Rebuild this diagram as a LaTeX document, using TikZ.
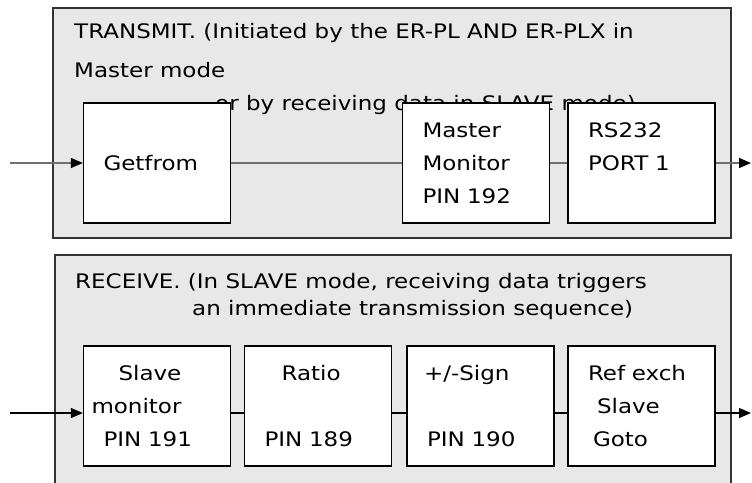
\documentclass[tikz,border=0pt]{standalone}
\usepackage{fontspec}
\setmainfont{DejaVu Sans}[FakeStretch=1.15]
\usetikzlibrary{arrows.meta,positioning}
\definecolor{panelgray}{HTML}{E8E8E8}
\definecolor{wiregray}{HTML}{707070}
\tikzset{
  panel/.style={draw=black!80,line width=1.3pt,fill=panelgray},
  block/.style={draw=black,line width=1.3pt,fill=white,minimum width=147pt,
    minimum height=120pt,inner xsep=20pt,text width=107pt,align=left,
    font=\fontsize{20}{33}\selectfont},
  caption/.style={anchor=base west,inner sep=0pt,align=left,
    font=\fontsize{20}{33}\selectfont},
  wire/.style={line width=1.3pt},
  feed/.style={wire,-{Triangle[length=12pt,width=10pt,color=black]}}
}
\begin{document}
\begin{tikzpicture}[x=1pt,y=-1pt]
\useasboundingbox (0,0) rectangle (752,482);
\clip (0,0) rectangle (752,482);
% transmit panel
\draw[panel] (53,8) rectangle (731,238);
\node[caption] (txcap) at (74,110)
  {TRANSMIT. (Initiated by the ER-PL AND ER-PLX in\\[6pt]Master mode\\
   \hspace*{141pt}or by receiving data in SLAVE mode)};
\node[block] (getfrom) at (157,163) {Getfrom};
\node[block] (mastermon) at (476,163) {Master\\Monitor\\PIN 192};
\node[block] (rsport) at (641.5,163) {RS232\\PORT 1\\\mbox{}};
\coordinate (txin) at (10,163);
\coordinate (txout) at (751,163);
\draw[feed,draw=wiregray] (txin) -- (getfrom);
\draw[wire,draw=wiregray] (getfrom) -- (mastermon);
\draw[wire,draw=wiregray] (mastermon) -- (rsport);
\draw[feed,draw=wiregray] (rsport) -- (txout);
% receive panel
\draw[panel] (55,255) rectangle (731,520);
\node[caption] (rxcap) at (75,315)
  {RECEIVE. (In SLAVE mode, receiving data triggers\\[-6pt]
   \hspace*{117pt}an immediate transmission sequence)};
\node[block] (slavemon) at (157,406)
  {\hspace*{15pt}Slave\\\hspace*{-12pt}monitor\\PIN 191};
\node[block] (ratio) at (318,406) {\hspace*{17pt}Ratio\\\mbox{}\\PIN 189};
\node[block] (sign) at (480.5,406) {\hspace*{-3pt}+/-Sign\\\mbox{}\\PIN 190};
\node[block] (refexch) at (641.5,406)
  {Ref exch\\\hspace*{9pt}Slave\\\hspace*{5pt}Goto};
\coordinate (rxin) at (10,413);
\coordinate (rxout) at (751,413);
\draw[feed] (rxin) -- (rxin -| slavemon.west);
\draw[wire] (slavemon.east |- rxin) -- (ratio.west |- rxin);
\draw[wire] (ratio.east |- rxin) -- (sign.west |- rxin);
\draw[wire] (sign.east |- rxin) -- (refexch.west |- rxin);
\draw[feed] (refexch.east |- rxin) -- (rxout);
\end{tikzpicture}
\end{document}
